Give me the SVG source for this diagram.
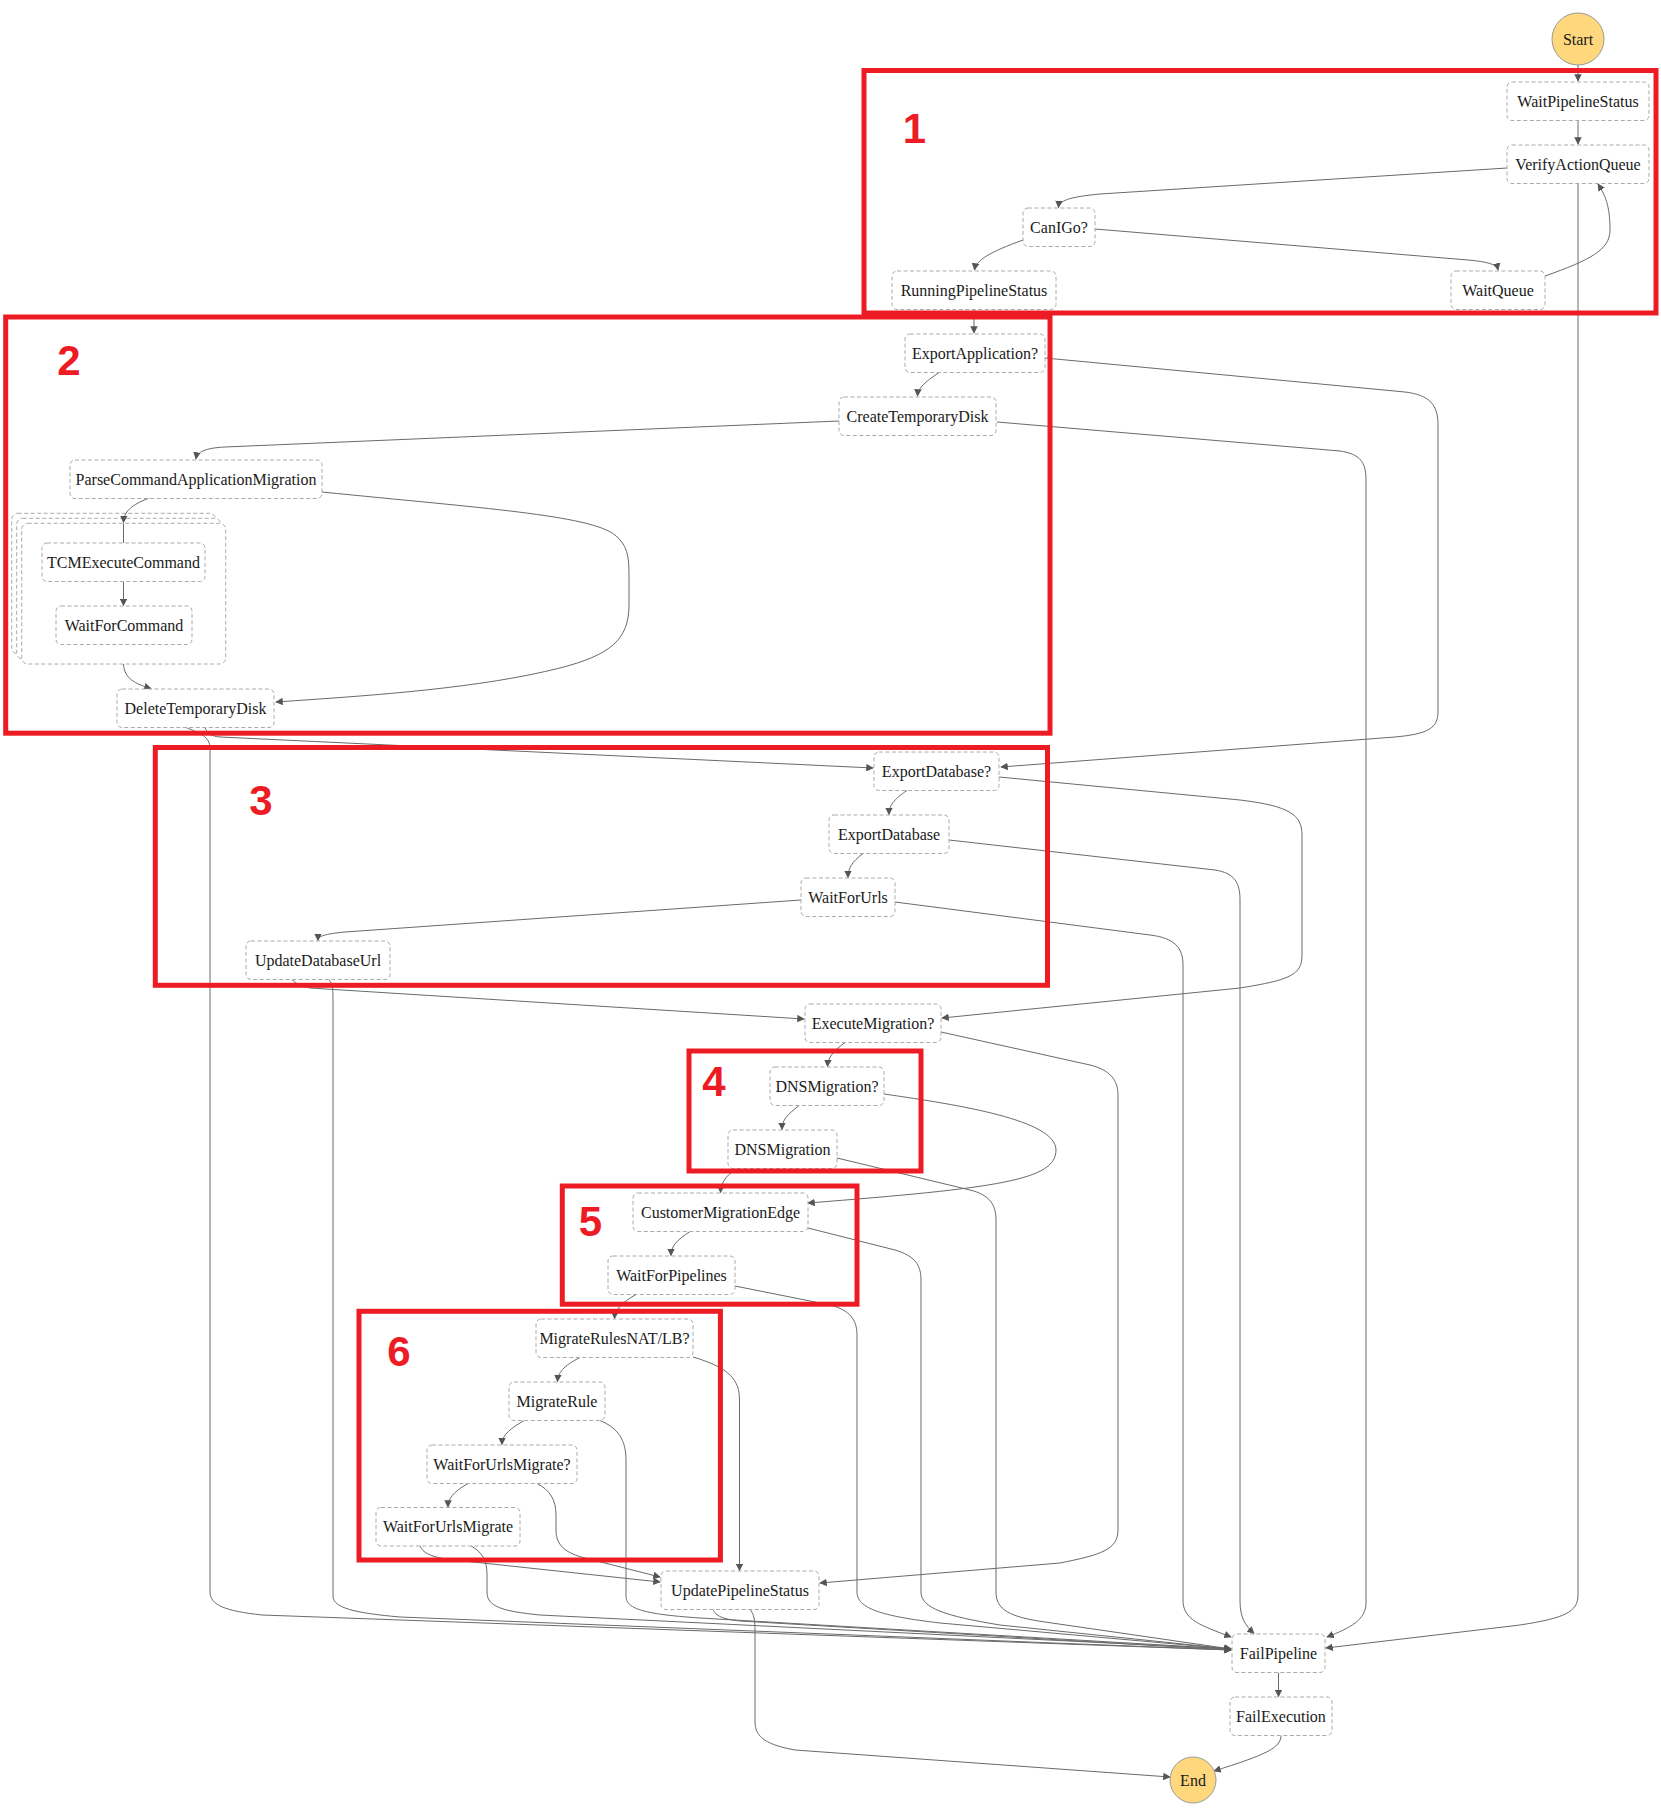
<svg xmlns="http://www.w3.org/2000/svg" width="1661" height="1814" viewBox="0 0 1661 1814">
<style>
.node rect{fill:#fff;stroke:#aaa;stroke-width:1;stroke-dasharray:4 2.5}
.node text,.term text{font-family:"Liberation Serif",serif;font-size:16px;fill:#1a1a1a;text-anchor:middle}
.term circle{fill:#ffd87d;stroke:#999;stroke-width:1}
.container rect{fill:#fff;stroke:#aaa;stroke-width:1;stroke-dasharray:4 2.5}
.edges path{fill:none;stroke:#6a6a6a;stroke-width:1;marker-end:url(#arr)}
.edges path.plain{marker-end:none}
.anno rect{fill:none;stroke:#ed1c24;stroke-width:5}
.anno text{font-family:"Liberation Sans",Arial,sans-serif;font-weight:bold;font-size:42px;fill:#ed1c24;text-anchor:middle}
</style>
<defs>
<marker id="arr" viewBox="0 0 10 10" refX="9" refY="5" markerWidth="7.5" markerHeight="7.5" markerUnits="userSpaceOnUse" orient="auto"><path d="M0,0 L10,5 L0,10 z" fill="#555"/></marker>
</defs>
<rect width="1661" height="1814" fill="#fff"/>

<g id="ParallelContainer" class="container">
<rect x="11.7" y="513.3" width="204" height="140.7" rx="6"/>
<rect x="16.7" y="518.3" width="204" height="140.7" rx="6"/>
<rect x="21.7" y="523.3" width="204" height="140.7" rx="6"/>
</g>

<g id="edges" class="edges">
<path d="M1578,65 L1578,81"/>
<path d="M1578,120.5 L1578,144"/>
<path d="M1507,168 L1100,194 C1068,197 1059,201 1058.5,207.5"/>
<path d="M1578,183.5 L1578,1595 C1578,1612 1565,1618 1520,1625 L1326,1648"/>
<path d="M1023,240 C990,252 976,260 974.5,270"/>
<path d="M1095,229 L1468,260 C1490,262 1497,265 1498,270"/>
<path d="M1545,276 C1590,260 1610,250 1610,230 C1610,205 1605,195 1598,184"/>
<path d="M974,309.5 L974,333"/>
<path d="M939,372.5 C925,382 918,388 917.5,396"/>
<path d="M1045,358 L1405,392 C1430,395 1438,405 1438,425 L1438,712 C1438,728 1428,734 1395,737 L1001,767"/>
<path d="M839,421 L225,447 C205,448 197,452 196,459"/>
<path d="M997,422 L1340,451 C1360,454 1366,462 1366,480 L1366,1603 C1366,1620 1350,1628 1327,1637"/>
<path d="M152,497 C130,505 124,512 123.5,522.5"/>
<path class="plain" d="M123.5,523.5 L123.5,543"/>
<path d="M322,492 C480,508 590,515 615,535 C627,545 629,555 629,575 L629,605 C629,640 610,655 560,668 C480,688 380,695 276,702"/>
<path d="M123.5,581.5 L123.5,605.5"/>
<path d="M123.5,664 C124,678 135,684 151,688.5"/>
<path d="M205,727.5 C207,733 210,736 220,737 L873,768"/>
<path d="M186,727.5 C200,733 210,737 210,748 L210,1592 C210,1605 225,1611 262,1615 L1231,1650"/>
<path d="M907,790.5 C893,800 889,806 889,814.5"/>
<path d="M999,777 L1240,800 C1290,806 1302,815 1302,835 L1302,955 C1302,975 1290,980 1240,988 L942,1018"/>
<path d="M949,840 L1215,870 C1234,873 1240,882 1240,900 L1240,1600 C1240,1618 1245,1625 1254,1633.5"/>
<path d="M863,853.5 C852,862 848,868 848,877.5"/>
<path d="M801,900 L345,932 C325,934 318,936 318,940.5"/>
<path d="M895,902 L1150,935 C1175,938 1183,948 1183,965 L1183,1600 C1183,1620 1200,1625 1231,1637"/>
<path d="M292,979.5 C296,984 300,986 310,988 L804,1019"/>
<path d="M329,979.5 C333,985 333,990 333,1000 L333,1596 C333,1608 355,1613 400,1617 L1231,1650"/>
<path d="M845,1042.5 C832,1052 828,1058 827.5,1066.5"/>
<path d="M941,1032 L1090,1065 C1110,1070 1118,1080 1118,1095 L1118,1530 C1118,1550 1100,1555 1060,1563 L820,1583"/>
<path d="M799,1105.5 C787,1115 782,1120 782,1129.5"/>
<path d="M884,1094 C960,1105 1056,1120 1056,1150 C1056,1180 1000,1188 808,1203"/>
<path d="M736,1168.5 C725,1177 721,1183 720.5,1192.5"/>
<path d="M837,1158 L970,1190 C990,1195 996,1205 996,1220 L996,1592 C996,1610 1010,1617 1045,1622 L1231,1649"/>
<path d="M690,1231.5 C677,1240 671,1246 671,1255.5"/>
<path d="M808,1228 L895,1250 C915,1256 921,1265 921,1280 L921,1592 C921,1608 945,1616 1000,1625 L1231,1649"/>
<path d="M636,1294.5 C621,1303 615,1310 614.5,1318.5"/>
<path d="M735,1286 L830,1305 C850,1310 857,1320 857,1335 L857,1592 C857,1608 880,1616 940,1623 L1231,1649"/>
<path d="M580,1357.5 C563,1366 558,1373 557.5,1381.5"/>
<path d="M693,1357 C730,1368 739.5,1380 739.5,1400 L739.5,1570.5"/>
<path d="M524,1420.5 C508,1430 502,1436 502,1444.5"/>
<path d="M600,1420.5 C618,1428 626,1440 626,1460 L626,1596 C626,1608 640,1614 700,1618 L1231,1649"/>
<path d="M468,1483.5 C453,1492 448,1499 448,1507"/>
<path d="M537,1483.5 C550,1490 556,1500 556,1515 L556,1530 C556,1545 565,1553 585,1558 L660,1577"/>
<path d="M420,1546 C423,1553 430,1556 445,1559 L660,1582"/>
<path d="M471,1546 C482,1552 487,1560 487,1575 L487,1592 C487,1606 500,1611 540,1615 L1231,1649"/>
<path d="M713,1609.5 C716,1616 722,1619 740,1621 L1231,1650"/>
<path d="M750,1609.5 C754,1614 755,1620 755,1632 L755,1722 C755,1738 768,1745 795,1750 L1170,1777"/>
<path d="M1278.5,1672.5 L1278.5,1696.5"/>
<path d="M1281,1735.5 C1281,1748 1265,1755 1214,1771"/>
</g>

<g id="Start" class="term"><circle cx="1578" cy="39" r="26"/><text x="1578" y="44.5">Start</text></g>
<g id="End" class="term"><circle cx="1193" cy="1780" r="23"/><text x="1193" y="1785.5">End</text></g>

<g id="WaitPipelineStatus" class="node"><rect x="1507" y="82" width="142" height="38.5" rx="5"/><text x="1578" y="106.5">WaitPipelineStatus</text></g>
<g id="VerifyActionQueue" class="node"><rect x="1507" y="145" width="142" height="38.5" rx="5"/><text x="1578" y="169.5">VerifyActionQueue</text></g>
<g id="CanIGo" class="node"><rect x="1023" y="208" width="72" height="38.5" rx="5"/><text x="1059" y="232.5">CanIGo?</text></g>
<g id="RunningPipelineStatus" class="node"><rect x="892" y="271" width="164" height="38.5" rx="5"/><text x="974" y="295.5">RunningPipelineStatus</text></g>
<g id="WaitQueue" class="node"><rect x="1451" y="271" width="94" height="38.5" rx="5"/><text x="1498" y="295.5">WaitQueue</text></g>
<g id="ExportApplication" class="node"><rect x="905" y="334" width="140" height="38.5" rx="5"/><text x="975" y="358.5">ExportApplication?</text></g>
<g id="CreateTemporaryDisk" class="node"><rect x="839" y="397" width="157" height="38.5" rx="5"/><text x="917.5" y="421.5">CreateTemporaryDisk</text></g>
<g id="ParseCommandApplicationMigration" class="node"><rect x="70" y="460" width="252" height="38.5" rx="5"/><text x="196" y="484.5">ParseCommandApplicationMigration</text></g>
<g id="TCMExecuteCommand" class="node"><rect x="42" y="543" width="163" height="38.5" rx="5"/><text x="123.5" y="567.5">TCMExecuteCommand</text></g>
<g id="WaitForCommand" class="node"><rect x="56" y="606" width="136" height="38.5" rx="5"/><text x="124" y="630.5">WaitForCommand</text></g>
<g id="DeleteTemporaryDisk" class="node"><rect x="117" y="689" width="157" height="38.5" rx="5"/><text x="195.5" y="713.5">DeleteTemporaryDisk</text></g>
<g id="ExportDatabaseQ" class="node"><rect x="874" y="752" width="125" height="38.5" rx="5"/><text x="936.5" y="776.5">ExportDatabase?</text></g>
<g id="ExportDatabase" class="node"><rect x="829" y="815" width="120" height="38.5" rx="5"/><text x="889" y="839.5">ExportDatabase</text></g>
<g id="WaitForUrls" class="node"><rect x="801" y="878" width="94" height="38.5" rx="5"/><text x="848" y="902.5">WaitForUrls</text></g>
<g id="UpdateDatabaseUrl" class="node"><rect x="246" y="941" width="144" height="38.5" rx="5"/><text x="318" y="965.5">UpdateDatabaseUrl</text></g>
<g id="ExecuteMigration" class="node"><rect x="805" y="1004" width="136" height="38.5" rx="5"/><text x="873" y="1028.5">ExecuteMigration?</text></g>
<g id="DNSMigrationQ" class="node"><rect x="770" y="1067" width="114" height="38.5" rx="5"/><text x="827" y="1091.5">DNSMigration?</text></g>
<g id="DNSMigration" class="node"><rect x="728" y="1130" width="109" height="38.5" rx="5"/><text x="782.5" y="1154.5">DNSMigration</text></g>
<g id="CustomerMigrationEdge" class="node"><rect x="633" y="1193" width="175" height="38.5" rx="5"/><text x="720.5" y="1217.5">CustomerMigrationEdge</text></g>
<g id="WaitForPipelines" class="node"><rect x="608" y="1256" width="127" height="38.5" rx="5"/><text x="671.5" y="1280.5">WaitForPipelines</text></g>
<g id="MigrateRulesNATLB" class="node"><rect x="536" y="1319" width="157" height="38.5" rx="5"/><text x="614.5" y="1343.5">MigrateRulesNAT/LB?</text></g>
<g id="MigrateRule" class="node"><rect x="509" y="1382" width="96" height="38.5" rx="5"/><text x="557" y="1406.5">MigrateRule</text></g>
<g id="WaitForUrlsMigrateQ" class="node"><rect x="427" y="1445" width="150" height="38.5" rx="5"/><text x="502" y="1469.5">WaitForUrlsMigrate?</text></g>
<g id="WaitForUrlsMigrate" class="node"><rect x="376" y="1507.5" width="144" height="38.5" rx="5"/><text x="448" y="1532">WaitForUrlsMigrate</text></g>
<g id="UpdatePipelineStatus" class="node"><rect x="661" y="1571" width="158" height="38.5" rx="5"/><text x="740" y="1595.5">UpdatePipelineStatus</text></g>
<g id="FailPipeline" class="node"><rect x="1232" y="1634" width="93" height="38.5" rx="5"/><text x="1278.5" y="1658.5">FailPipeline</text></g>
<g id="FailExecution" class="node"><rect x="1230" y="1697" width="102" height="38.5" rx="5"/><text x="1281" y="1721.5">FailExecution</text></g>

<g id="annotations" class="anno">
<rect x="864" y="70.5" width="792" height="242.5"/>
<rect x="5.7" y="317" width="1044.3" height="416.2"/>
<rect x="155.3" y="747.5" width="892.2" height="237.8"/>
<rect x="689" y="1051" width="232" height="120"/>
<rect x="562.3" y="1186" width="294.7" height="118.2"/>
<rect x="359" y="1311.3" width="361.4" height="248.7"/>
<text x="914.5" y="143">1</text>
<text x="69" y="375">2</text>
<text x="261" y="815">3</text>
<text x="714" y="1096">4</text>
<text x="590.5" y="1235.5">5</text>
<text x="399" y="1366">6</text>
</g>
</svg>
